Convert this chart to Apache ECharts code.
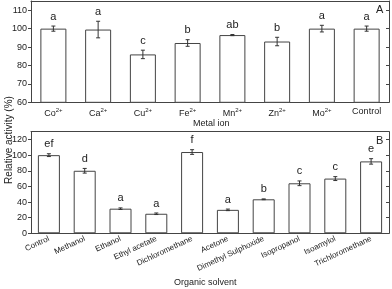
<!DOCTYPE html>
<html><head><meta charset="utf-8">
<script src="https://cdn.jsdelivr.net/npm/echarts@6/dist/echarts.min.js"></script>
<style>html,body{margin:0;padding:0;background:#fff}#c{width:392px;height:289px}</style>
</head><body><div id="c"></div>
<script>
// Panel A: metal ions
const metalIons = ['Co', 'Ca', 'Cu', 'Fe', 'Mn', 'Zn', 'Mo', 'Control'];
const metalSup = ['2+', '2+', '2+', '2+', '2+', '2+', '2+', ''];
const metalValues = [100, 99.5, 86, 92.2, 96.5, 93, 100, 100];
const metalErrors = [1.4, 4.5, 2.3, 1.8, 0.3, 2.3, 1.8, 1.4];
const metalLetters = ['a', 'a', 'c', 'b', 'ab', 'b', 'a', 'a'];
const metalTicks = [60, 70, 80, 90, 100, 110];

// Panel B: organic solvents
const solvents = ['Control', 'Methanol', 'Ethanol', 'Ethyl acetate', 'Dichloromethane', 'Acetone', 'Dimethyl Sulphoxide', 'Isopropanol', 'Isoamylol', 'Trichloromethane'];
const solventValues = [100, 80, 31.5, 25, 104, 30, 43.5, 64, 70, 92];
const solventErrors = [1.8, 3, 1, 1, 3, 1, 0.5, 3, 2.5, 3.5];
const solventLetters = ['ef', 'd', 'a', 'a', 'f', 'a', 'b', 'c', 'c', 'e'];
const solventTicks = [0, 20, 40, 60, 80, 100, 120];

const AX = '#444';
const FONT = 'Liberation Sans, Arial, sans-serif';

function errSeries(xi, yi, values, errors, letters) {
  return {
    type: 'custom', xAxisIndex: xi, yAxisIndex: yi, z: 5,
    data: values.map((v, i) => [i, v - errors[i], v + errors[i]]),
    renderItem: function (params, api) {
      const x = api.value(0);
      const lo = api.coord([x, api.value(1)]);
      const hi = api.coord([x, api.value(2)]);
      const w = 2;
      const st = { stroke: '#333', lineWidth: 1 };
      return {
        type: 'group', children: [
          { type: 'line', shape: { x1: lo[0], y1: lo[1], x2: hi[0], y2: hi[1] }, style: st },
          { type: 'line', shape: { x1: hi[0] - w, y1: hi[1], x2: hi[0] + w, y2: hi[1] }, style: st },
          { type: 'line', shape: { x1: lo[0] - w, y1: lo[1], x2: lo[0] + w, y2: lo[1] }, style: st },
          { type: 'text', style: { text: letters[params.dataIndex], x: hi[0], y: hi[1] - 4, align: 'center', verticalAlign: 'bottom', fontSize: 11, fontFamily: FONT, fill: '#222' } }
        ]
      };
    }
  };
}

function barSeries(xi, yi, values, bw) {
  return {
    type: 'bar', xAxisIndex: xi, yAxisIndex: yi, data: values, barWidth: bw,
    itemStyle: { color: '#fff', borderColor: AX, borderWidth: 1 }, silent: true
  };
}

const axisLine = { show: true, onZero: false, lineStyle: { color: AX, width: 1 } };

const option = {
  animation: false,
  backgroundColor: '#fff',
  grid: [
    { left: 31, right: 3, top: 1, height: 101.3 },
    { left: 31, right: 3, top: 131.7, height: 101.6 }
  ],
  xAxis: [
    {
      type: 'category', gridIndex: 0, data: metalIons, position: 'bottom',
      axisLine: axisLine, axisTick: { alignWithLabel: true, length: 3, lineStyle: { color: AX } },
      axisLabel: {
        interval: 0, margin: 5, color: '#222', fontFamily: FONT, fontSize: 9,
        formatter: function (v, i) { return metalSup[i] ? '{b|' + v + '}{s|' + metalSup[i] + '}' : '{b|' + v + '}'; },
        rich: { b: { fontSize: 9, fontFamily: FONT, color: '#222' }, s: { fontSize: 6, fontFamily: FONT, color: '#222', verticalAlign: 'top', padding: [0, 0, 6, 0] } }
      }
    },
    {
      type: 'category', gridIndex: 0, data: metalIons, position: 'top',
      axisLine: axisLine, axisTick: { alignWithLabel: true, inside: true, length: 3, lineStyle: { color: AX } },
      axisLabel: { show: false }
    },
    {
      type: 'category', gridIndex: 1, data: solvents, position: 'bottom',
      axisLine: axisLine, axisTick: { alignWithLabel: true, length: 3, lineStyle: { color: AX } },
      axisLabel: { interval: 0, rotate: 25, margin: 5, color: '#222', fontFamily: FONT, fontSize: 8 }
    },
    {
      type: 'category', gridIndex: 1, data: solvents, position: 'top',
      axisLine: axisLine, axisTick: { alignWithLabel: true, inside: true, length: 3, lineStyle: { color: AX } },
      axisLabel: { show: false }
    }
  ],
  yAxis: [
    {
      type: 'value', gridIndex: 0, min: 60, max: 115, interval: 10, position: 'left',
      axisLine: axisLine, splitLine: { show: false },
      axisLabel: { margin: 4, color: '#222', fontFamily: FONT, fontSize: 9, customValues: metalTicks },
      axisTick: { show: true, length: 3, lineStyle: { color: AX }, customValues: metalTicks }
    },
    {
      type: 'value', gridIndex: 0, min: 60, max: 115, interval: 10, position: 'right',
      axisLine: axisLine, splitLine: { show: false }, axisLabel: { show: false },
      axisTick: { show: true, inside: true, length: 3, lineStyle: { color: AX }, customValues: metalTicks }
    },
    {
      type: 'value', gridIndex: 1, min: 0, max: 130, interval: 20, position: 'left',
      axisLine: axisLine, splitLine: { show: false },
      axisLabel: { margin: 4, color: '#222', fontFamily: FONT, fontSize: 9, customValues: solventTicks },
      axisTick: { show: true, length: 3, lineStyle: { color: AX }, customValues: solventTicks }
    },
    {
      type: 'value', gridIndex: 1, min: 0, max: 130, interval: 20, position: 'right',
      axisLine: axisLine, splitLine: { show: false }, axisLabel: { show: false },
      axisTick: { show: true, inside: true, length: 3, lineStyle: { color: AX }, customValues: solventTicks }
    }
  ],
  series: [
    barSeries(0, 0, metalValues, 26),
    errSeries(0, 0, metalValues, metalErrors, metalLetters),
    barSeries(2, 2, solventValues, 22),
    errSeries(2, 2, solventValues, solventErrors, solventLetters)
  ],
  graphic: [
    { type: 'text', left: 376, top: 4, style: { text: 'A', fontSize: 11, fontFamily: FONT, fill: '#222' } },
    { type: 'text', left: 376, top: 135, style: { text: 'B', fontSize: 11, fontFamily: FONT, fill: '#222' } },
    { type: 'text', left: 193, top: 119, style: { text: 'Metal ion', fontSize: 9, fontFamily: FONT, fill: '#222' } },
    { type: 'text', left: 174, top: 278, style: { text: 'Organic solvent', fontSize: 9, fontFamily: FONT, fill: '#222' } },
    { type: 'text', x: 9, y: 140, rotation: Math.PI / 2, style: { text: 'Relative activity (%)', fontSize: 10, fontFamily: FONT, fill: '#222', align: 'center', verticalAlign: 'middle' } }
  ]
};
echarts.init(document.getElementById('c'), null, { renderer: 'canvas' }).setOption(option);
</script></body></html>
